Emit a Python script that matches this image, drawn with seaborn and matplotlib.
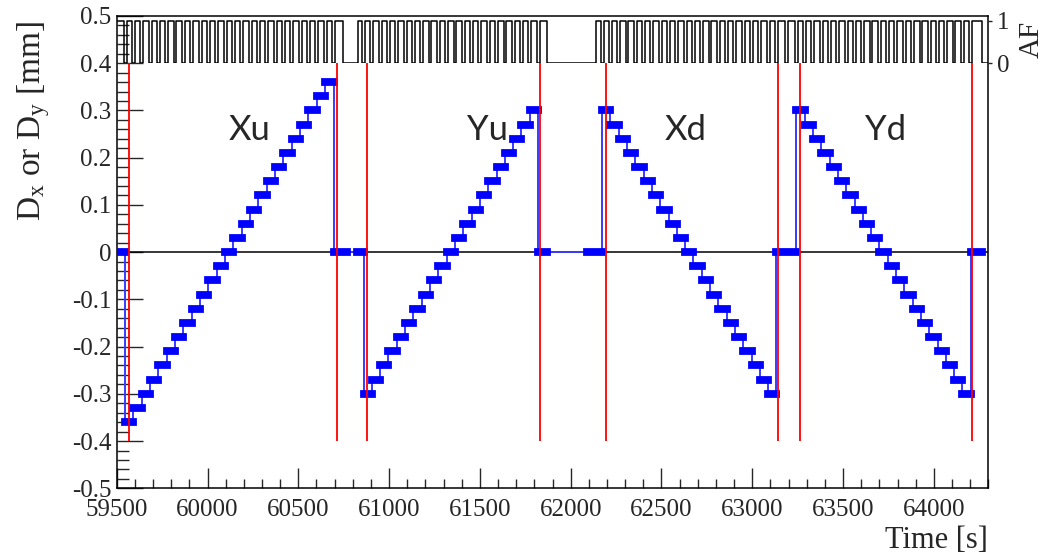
import matplotlib
matplotlib.use("Agg")
import matplotlib.pyplot as plt
import seaborn as sns
import pandas as pd
from matplotlib.ticker import MultipleLocator, FuncFormatter

# ---------------- data ----------------
xu_times = [59546, 59592, 59638, 59684, 59730, 59776, 59821, 59867, 59913, 59959,
            60005, 60051, 60097, 60143, 60189, 60235, 60280, 60326, 60372, 60418,
            60464, 60510, 60556, 60602, 60648]
xu_levels = [-0.36, -0.33, -0.30, -0.27, -0.24, -0.21, -0.18, -0.15, -0.12, -0.09,
             -0.06, -0.03, 0.00, 0.03, 0.06, 0.09, 0.12, 0.15, 0.18, 0.21,
             0.24, 0.27, 0.30, 0.33, 0.36]
xu_end = 60694

yu_times = [60859, 60905, 60951, 60996, 61042, 61088, 61134, 61180, 61225, 61271,
            61317, 61363, 61409, 61454, 61500, 61546, 61592, 61638, 61683, 61729, 61775]
yu_levels = [-0.30, -0.27, -0.24, -0.21, -0.18, -0.15, -0.12, -0.09, -0.06, -0.03,
             0.00, 0.03, 0.06, 0.09, 0.12, 0.15, 0.18, 0.21, 0.24, 0.27, 0.30]
yu_end = 61821

xd_times = [62173, 62219, 62264, 62310, 62356, 62401, 62447, 62493, 62539, 62584,
            62630, 62676, 62721, 62767, 62813, 62859, 62904, 62950, 62996, 63041, 63087]
xd_levels = [0.30, 0.27, 0.24, 0.21, 0.18, 0.15, 0.12, 0.09, 0.06, 0.03,
             0.00, -0.03, -0.06, -0.09, -0.12, -0.15, -0.18, -0.21, -0.24, -0.27, -0.30]
xd_end = 63133

yd_times = [63243, 63289, 63334, 63380, 63426, 63471, 63517, 63563, 63609, 63654,
            63700, 63746, 63791, 63837, 63883, 63929, 63974, 64020, 64066, 64111, 64157]
yd_levels = [0.30, 0.27, 0.24, 0.21, 0.18, 0.15, 0.12, 0.09, 0.06, 0.03,
             0.00, -0.03, -0.06, -0.09, -0.12, -0.15, -0.18, -0.21, -0.24, -0.27, -0.30]
yd_end = 64203

zero_start = [59480, 60694, 60824, 61821, 62088, 63133, 64203]
zero_end = [59546, 60770, 60859, 61871, 62173, 63243, 64265]

boundary_times = [59569, 60711, 60879, 61829, 62195, 63140, 63265, 64211]

af_extra_dips = [63188]
af_off_start = [60748, 61871, 64263]
af_off_end = [60829, 62141, 64400]

scan_names = ["Xu", "Yu", "Xd", "Yd"]
scan_label_t = [60234, 61541, 62632, 63734]
scan_label_d = [0.258, 0.258, 0.258, 0.258]

x_lim = (59500, 64300)
y_lim = (-0.5, 0.5)

# ---------------- style ----------------
sns.set_style("ticks")
plt.rcParams["font.family"] = ["Liberation Serif", "DejaVu Serif"]
plt.rcParams["mathtext.fontset"] = "custom"
plt.rcParams["mathtext.rm"] = "Liberation Serif"
plt.rcParams["mathtext.it"] = "Liberation Serif:italic"
plt.rcParams["axes.unicode_minus"] = False

fig = plt.figure(figsize=(10.44, 5.59), dpi=100)
fig.patch.set_facecolor("white")
ax = fig.add_axes([0.1118, 0.1265, 0.9467 - 0.1118, 0.9714 - 0.1265])
ax.set_facecolor("white")

# ---------------- build step segments ----------------
rows = []
for times, levels, end in [(xu_times, xu_levels, xu_end), (yu_times, yu_levels, yu_end),
                           (xd_times, xd_levels, xd_end), (yd_times, yd_levels, yd_end)]:
    ends = times[1:] + [end]
    for s, e, lv in zip(times, ends, levels):
        rows.append((s, e, lv))
for s, e in zip(zero_start, zero_end):
    rows.append((s, e, 0.0))
seg = pd.DataFrame(rows, columns=["start", "end", "level"]).sort_values("start").reset_index(drop=True)

path_t, path_d = [], []
for s, e, lv in seg.itertuples(index=False):
    path_t += [s, e]
    path_d += [lv, lv]

# zero line
ax.axhline(0, color="black", lw=1.1, zorder=1)

# thin connecting line
sns.lineplot(x=path_t, y=path_d, sort=False, estimator=None, color="#3a3aff",
             lw=1.4, ax=ax, zorder=2)
# thick step blocks
blocks = ax.hlines(seg["level"], seg["start"], seg["end"], colors="#0000ff",
                   linewidth=5.6, zorder=3)
blocks.set_capstyle("projecting")

# red boundaries
ax.vlines(boundary_times, -0.4, 0.4, colors="#ff0000", lw=1.3, zorder=4)

# scan labels
for name, t, d in zip(scan_names, scan_label_t, scan_label_d):
    ax.text(t, d, name, fontsize=25, family="Lato", ha="center", va="center", zorder=5)

ax.set_xlim(*x_lim)
ax.set_ylim(*y_lim)
ax.xaxis.set_major_locator(MultipleLocator(500))
ax.xaxis.set_minor_locator(MultipleLocator(100))
ax.yaxis.set_major_locator(MultipleLocator(0.1))
ax.yaxis.set_minor_locator(MultipleLocator(0.02))
ax.yaxis.set_major_formatter(FuncFormatter(lambda v, p: "0" if abs(v) < 1e-9 else "%g" % round(v, 2)))
ax.xaxis.set_major_formatter(FuncFormatter(lambda v, p: "%d" % round(v)))

ax.tick_params(axis="x", which="major", direction="in", length=14.4, width=1.0,
               labelsize=18, pad=8, top=False)
ax.tick_params(axis="x", which="minor", direction="in", length=6.5, width=1.0, top=False)
ax.tick_params(axis="y", which="major", direction="in", length=18.7, width=1.0,
               labelsize=18, pad=4, right=False)
ax.tick_params(axis="y", which="minor", direction="in", length=8.6, width=1.0, right=False)
for sp in ax.spines.values():
    sp.set_visible(True)
    sp.set_color("black")
    sp.set_linewidth(1.1)

ax.set_xlabel("Time [s]", fontsize=22, loc="right")
ax.xaxis.set_label_coords(1.0, -0.08)
ax.set_ylabel(r"D$_{\mathrm{x}}$ or D$_{\mathrm{y}}$ [mm]", fontsize=24, loc="top")
ax.yaxis.set_label_coords(-0.074, 0.99)

# ---------------- AF signal (inset at top) ----------------
dips = sorted(set(xu_times + [xu_end] + yu_times + [yu_end] + xd_times + [xd_end]
                  + yd_times + [yd_end] + af_extra_dips))
off = [(t - 8, t + 8) for t in dips] + list(zip(af_off_start, af_off_end))
off.sort()
af_t, af_v = [59400], [1]
for a, b in off:
    af_t += [a, a, b, b]
    af_v += [1, 0, 0, 1]
af_t.append(64500)
af_v.append(af_v[-1])

axaf = ax.inset_axes([0, 0.9, 1, 0.1])
axaf.patch.set_alpha(0)
sns.lineplot(x=af_t, y=af_v, sort=False, estimator=None, color="black", lw=1.1, ax=axaf)
axaf.set_xlim(*x_lim)
axaf.set_ylim(0, 1 / 0.9)
for sp in axaf.spines.values():
    sp.set_visible(False)
axaf.set_xticks([])
axaf.yaxis.tick_right()
axaf.set_yticks([0, 1])
axaf.set_yticklabels(["0", "1"])
axaf.tick_params(axis="y", direction="out", length=3, width=1.0, labelsize=18, pad=3,
                 left=False, right=True)
axaf.set_xlabel("")
axaf.set_ylabel("")
axaf.text(1.05, 0.5, "AF", transform=axaf.transAxes, rotation=90, fontsize=21,
          ha="center", va="center")

fig.savefig("out.png", dpi=100, facecolor="white")
